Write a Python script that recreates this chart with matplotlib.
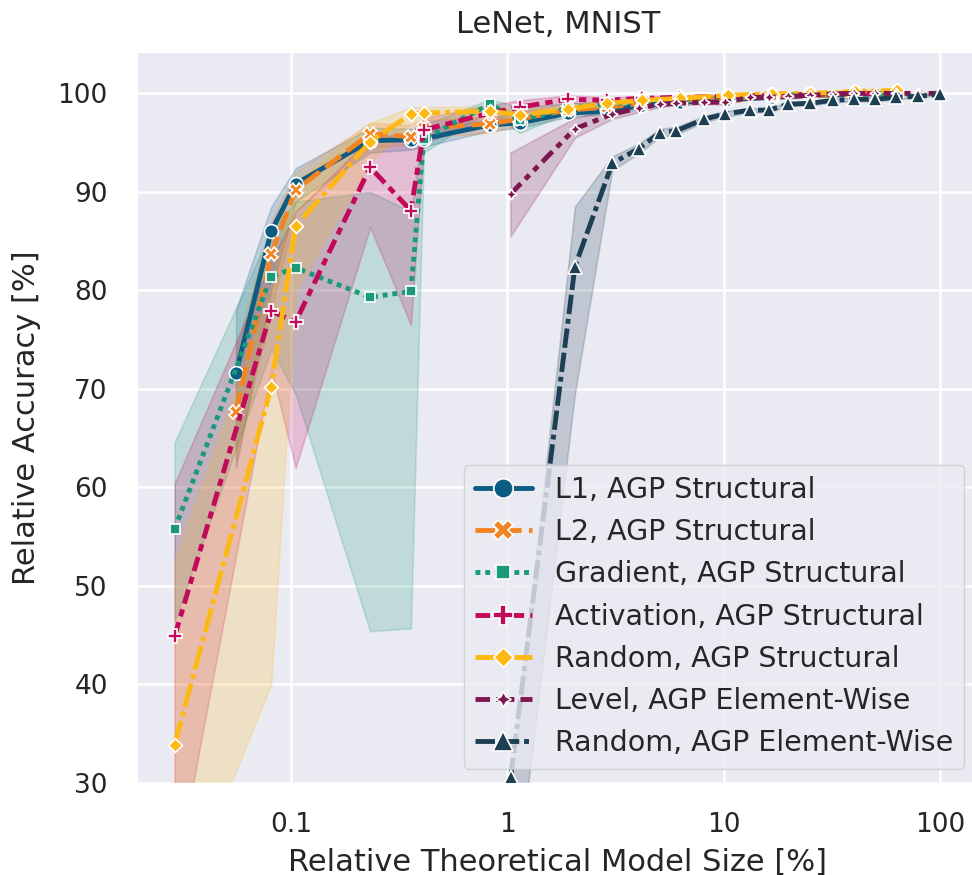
import numpy as np
import matplotlib
matplotlib.use("Agg")
import matplotlib.pyplot as plt
import seaborn as sns

sns.set_style("darkgrid")
plt.rcParams['font.family'] = ['DejaVu Sans']

# ---------------- data ----------------
series_names = ["L1, AGP Structural", "L2, AGP Structural", "Gradient, AGP Structural",
                "Activation, AGP Structural", "Random, AGP Structural",
                "Level, AGP Element-Wise", "Random, AGP Element-Wise"]

l1_x = [0.0557, 0.081, 0.105, 0.232, 0.358, 0.411, 0.83, 1.14, 1.9, 2.9, 4.2, 6.3, 10.5, 16.7, 25, 40.5, 63]
l1_y = [71.6, 86.0, 90.8, 95.2, 95.3, 95.4, 96.8, 97.0, 98.0, 98.2, 98.8, 99.1, 99.4, 99.6, 99.8, 99.9, 100.0]
l1_lo = [62.0, 80.0, 89.0, 94.0, 94.3, 94.6, 96.2, 96.5, 97.6, 97.9, 98.5, 98.9, 99.2, 99.5, 99.7, 99.8, 99.9]
l1_hi = [78.0, 88.5, 92.4, 96.5, 96.4, 96.3, 97.4, 97.5, 98.4, 98.5, 99.1, 99.3, 99.6, 99.7, 99.9, 100.0, 100.1]

l2_x = [0.0557, 0.081, 0.105, 0.232, 0.358, 0.411, 0.83, 1.14, 1.9, 2.9, 4.2, 6.3, 10.5, 16.7, 25, 40.5, 63]
l2_y = [67.7, 83.7, 90.2, 95.9, 95.6, 96.5, 96.9, 97.4, 98.3, 98.6, 99.0, 99.3, 99.5, 99.7, 99.8, 99.9, 100.0]
l2_lo = [62.8, 78.0, 88.0, 94.5, 94.8, 95.5, 96.0, 96.8, 97.8, 98.2, 98.7, 99.0, 99.3, 99.5, 99.7, 99.8, 99.9]
l2_hi = [74.0, 87.0, 92.0, 97.0, 96.8, 97.3, 97.6, 98.0, 98.7, 98.9, 99.2, 99.5, 99.7, 99.8, 99.9, 100.0, 100.1]

gr_x = [0.029, 0.081, 0.105, 0.232, 0.358, 0.411, 0.83, 1.14, 1.9, 2.9, 4.2, 6.3, 10.5, 16.7, 25, 40.5, 63]
gr_y = [55.8, 81.4, 82.3, 79.3, 79.9, 95.4, 98.9, 97.3, 98.5, 98.9, 99.2, 99.4, 99.6, 99.8, 99.9, 100.0, 100.0]
gr_lo = [46.5, 74.0, 69.5, 45.4, 45.7, 94.0, 98.3, 96.0, 98.0, 98.6, 99.0, 99.2, 99.4, 99.7, 99.8, 99.9, 99.9]
gr_hi = [64.6, 86.0, 89.0, 90.0, 88.0, 96.8, 99.4, 98.6, 99.0, 99.2, 99.4, 99.6, 99.8, 99.9, 100.0, 100.1, 100.1]

ac_x = [0.029, 0.081, 0.105, 0.232, 0.358, 0.411, 0.83, 1.14, 1.9, 2.9, 4.2, 6.3, 10.5, 16.7, 25, 40.5, 63]
ac_y = [44.9, 77.9, 76.8, 92.5, 88.1, 96.3, 98.0, 98.6, 99.4, 99.3, 99.5, 99.6, 99.7, 99.8, 99.9, 100.0, 100.0]
ac_lo = [20.0, 72.0, 62.0, 86.4, 76.5, 95.0, 97.2, 98.0, 99.0, 99.0, 99.3, 99.4, 99.5, 99.7, 99.8, 99.9, 99.9]
ac_hi = [60.4, 83.0, 88.0, 95.5, 96.0, 97.5, 98.8, 99.3, 99.8, 99.6, 99.7, 99.8, 99.9, 99.9, 100.0, 100.1, 100.1]

rs_x = [0.029, 0.081, 0.105, 0.232, 0.358, 0.411, 0.83, 1.14, 1.9, 2.9, 4.2, 6.3, 10.5, 16.7, 25, 40.5, 63]
rs_y = [33.9, 70.2, 86.5, 95.1, 97.9, 98.0, 98.2, 97.8, 98.4, 99.0, 99.3, 99.5, 99.8, 99.97, 100.0, 100.2, 100.3]
rs_lo = [16.0, 40.0, 80.0, 93.0, 97.0, 97.3, 97.6, 97.2, 98.0, 98.7, 99.0, 99.3, 99.6, 99.8, 99.9, 100.0, 100.1]
rs_hi = [52.6, 80.0, 91.0, 97.0, 98.6, 98.6, 98.7, 98.4, 98.8, 99.3, 99.5, 99.7, 100.0, 100.1, 100.2, 100.4, 100.5]

lv_x = [1.035, 2.05, 3.05, 4.05, 5.06, 6.04, 8.13, 10.1, 13.2, 16.1, 19.9, 25.1, 32.1, 40.0, 50.0, 62.6, 79.3, 100.0]
lv_y = [89.8, 96.4, 97.9, 98.5, 98.9, 99.0, 99.1, 99.1, 99.6, 99.6, 99.7, 99.8, 99.95, 100.0, 100.0, 100.0, 100.0, 100.0]
lv_lo = [85.5, 95.5, 97.4, 98.1, 98.6, 98.8, 98.9, 98.9, 99.4, 99.4, 99.5, 99.6, 99.8, 99.9, 99.9, 99.9, 99.9, 99.9]
lv_hi = [94.0, 97.5, 98.4, 98.9, 99.2, 99.2, 99.3, 99.3, 99.8, 99.8, 99.9, 100.0, 100.1, 100.1, 100.1, 100.1, 100.1, 100.1]

re_x = [1.035, 2.05, 3.05, 4.05, 5.06, 6.04, 8.13, 10.1, 13.2, 16.1, 19.9, 25.1, 32.1, 40.0, 50.0, 62.6, 79.3, 100.0]
re_y = [30.6, 82.4, 92.9, 94.4, 96.0, 96.2, 97.4, 97.9, 98.3, 98.3, 98.9, 99.0, 99.3, 99.4, 99.4, 99.6, 99.7, 99.9]
re_lo = [15.0, 69.5, 92.2, 93.9, 95.6, 95.8, 97.1, 97.6, 98.1, 98.1, 98.7, 98.8, 99.1, 99.2, 99.2, 99.4, 99.6, 99.8]
re_hi = [30.0, 88.5, 93.6, 94.9, 96.4, 96.6, 97.7, 98.2, 98.5, 98.5, 99.1, 99.2, 99.5, 99.6, 99.6, 99.8, 99.8, 100.0]

xs = [l1_x, l2_x, gr_x, ac_x, rs_x, lv_x, re_x]
ys = [l1_y, l2_y, gr_y, ac_y, rs_y, lv_y, re_y]
los = [l1_lo, l2_lo, gr_lo, ac_lo, rs_lo, lv_lo, re_lo]
his = [l1_hi, l2_hi, gr_hi, ac_hi, rs_hi, lv_hi, re_hi]

x_ticks = [0.1, 1, 10, 100]
x_ticklabels = ["0.1", "1", "10", "100"]
y_ticks = [30, 40, 50, 60, 70, 80, 90, 100]

# ---------------- style ----------------
colors = ["#0b5b82", "#f28522", "#1a9a7a", "#c2095a", "#fdb813", "#7e1650", "#1d3f54"]
markers = ["o", "X", (4, 0, 45), "P", (4, 0, 0), (4, 1, 0), "^"]
msizes = [10, 10, 10, 10, 10, 8, 10]
dashes = [None, (4, 1.5), (1, 1), (3, 1.25, 1.5, 1.25), (5, 1, 1, 1),
          (3, 1.25, 1.25, 1.25, 1.25, 1.25), (4, 1, 4, 1, 1, 1)]

fig = plt.figure(figsize=(9.72, 8.75), dpi=100)
ax = fig.add_axes([137 / 972, 1 - 783 / 875, (978.5 - 137) / 972, (783 - 52) / 875])

for i in range(len(series_names)):
    ax.fill_between(xs[i], los[i], his[i], color=colors[i], alpha=0.2, linewidth=1.2)
for i in range(len(series_names)):
    ln, = ax.plot(xs[i], ys[i], color=colors[i], lw=3.5, marker=markers[i], ms=msizes[i],
                  markeredgecolor="white", markeredgewidth=1.2, label=series_names[i])
    if dashes[i] is not None:
        ln.set_dashes(dashes[i])

ax.set_xscale("log")
ax.set_xlim(10 ** -1.7117, 10 ** 2.1769)
ax.set_ylim(30, 104.2)
ax.set_xticks(x_ticks)
ax.set_xticklabels(x_ticklabels)
ax.minorticks_off()
ax.set_yticks(y_ticks)
ax.tick_params(labelsize=19, colors="#262626", length=0, pad=21)
ax.grid(True, which="major", color="white", lw=1.8)
ax.set_facecolor("#EAEAF2")
ax.set_xlabel("Relative Theoretical Model Size [%]", fontsize=22, color="#262626", labelpad=7)
ax.set_ylabel("Relative Accuracy [%]", fontsize=22, color="#262626", labelpad=12)
ax.set_title("LeNet, MNIST", fontsize=22, color="#262626", pad=14)

leg = ax.legend(loc="lower right", fontsize=20.5, handlelength=2.0, handletextpad=0.8,
                markerscale=1.4, frameon=True, framealpha=0.8, facecolor="#EAEAF2",
                edgecolor="#cccccc", borderpad=0.4, labelspacing=0.5, borderaxespad=0.5)

fig.savefig("out.png", dpi=100)
